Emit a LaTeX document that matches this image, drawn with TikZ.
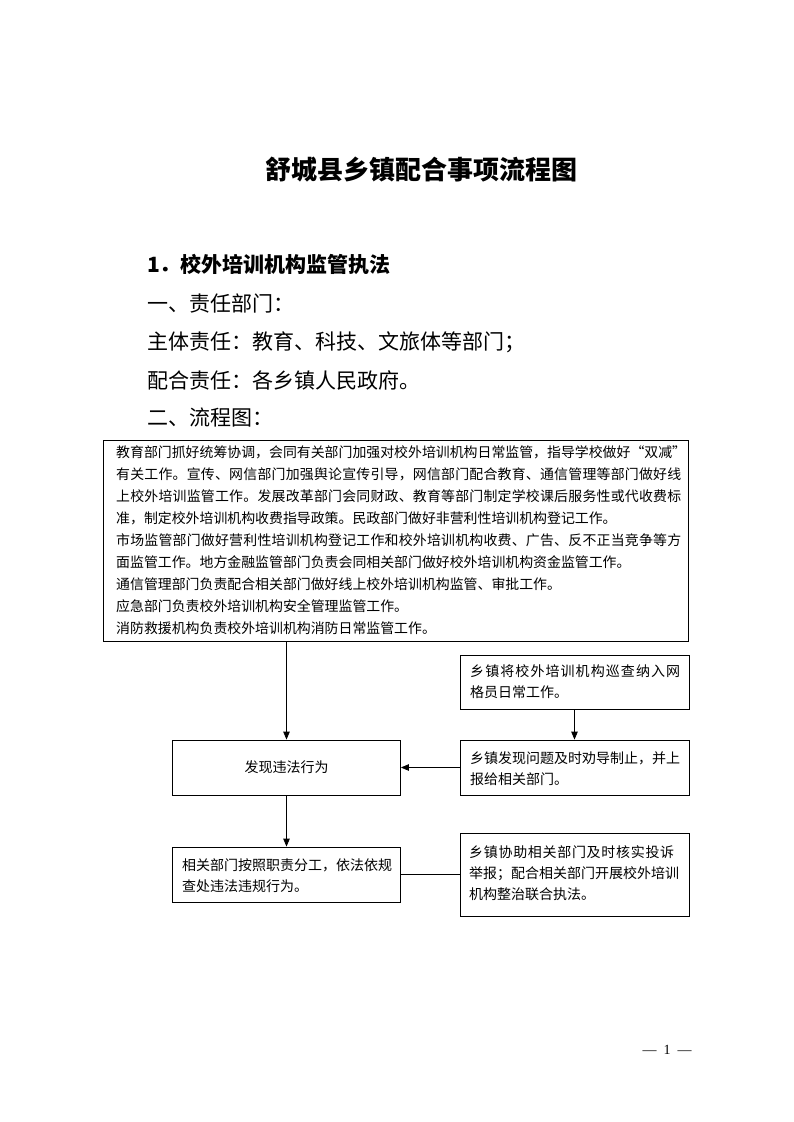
\documentclass[tikz,border=0pt]{standalone}
\usepackage{fontspec}
\setmainfont{Noto Sans CJK SC}
\newfontfamily\pnfont{Liberation Serif}
\usetikzlibrary{arrows.meta}
% justified line: spread characters over a given width
\newcommand\jline[2]{\hbox to #1{\jfirst#2\relax}}
\def\jfirst#1{#1\jrest}
\def\jrest#1{\ifx\relax#1\else\hfil#1\expandafter\jrest\fi}
\tikzset{
  box/.style={draw, line width=0.8pt, rectangle, inner xsep=0pt, inner ysep=0pt},
  arr/.style={line width=0.8pt, -{Triangle[length=8pt,width=6.5pt]}},
  conn/.style={line width=0.8pt},
  heading/.style={anchor=west, inner sep=0pt, font=\fontsize{21}{25}\selectfont},
  boxtext/.style={anchor=west, inner sep=0pt, align=left, font=\fontsize{14}{21}\selectfont},
}
\begin{document}
\begin{tikzpicture}[x=1pt,y=-1pt]
\useasboundingbox (0,0) rectangle (793,1122);
\fill[white] (0,0) rectangle (793,1122);

\node[inner sep=0pt, font=\fontsize{26}{30}\selectfont\bfseries] (title) at (421,170) {舒城县乡镇配合事项流程图};

\node[heading, font=\fontsize{21}{25}\selectfont\bfseries] (h1) at (147,264) {1．校外培训机构监管执法};
\node[heading] (h2) at (147,303) {一、责任部门：};
\node[heading] (h3) at (147,342) {主体责任：教育、科技、文旅体等部门；};
\node[heading] (h4) at (147,380) {配合责任：各乡镇人民政府。};
\node[heading] (h5) at (147,418) {二、流程图：};

\node[box, minimum width=585pt, minimum height=201pt] (big) at (395.5,540.5) {};
\node[boxtext, font=\fontsize{13.9}{22}\selectfont] (bigtext) at (116,540.5) {%
\jline{565pt}{教育部门抓好统筹协调，会同有关部门加强对校外培训机构日常监管，指导学校做好“双减”}\\
\jline{565pt}{有关工作。宣传、网信部门加强舆论宣传引导，网信部门配合教育、通信管理等部门做好线}\\
\jline{565pt}{上校外培训监管工作。发展改革部门会同财政、教育等部门制定学校课后服务性或代收费标}\\
准，制定校外培训机构收费指导政策。民政部门做好非营利性培训机构登记工作。\\
\jline{565pt}{市场监管部门做好营利性培训机构登记工作和校外培训机构收费、广告、反不正当竞争等方}\\
面监管工作。地方金融监管部门负责会同相关部门做好校外培训机构资金监管工作。\\
通信管理部门负责配合相关部门做好线上校外培训机构监管、审批工作。\\
应急部门负责校外培训机构安全管理监管工作。\\
消防救援机构负责校外培训机构消防日常监管工作。};

\node[box, minimum width=229pt, minimum height=54pt] (patrol) at (574.5,682) {};
\node[boxtext] at (470,682) {\jline{210pt}{乡镇将校外培训机构巡查纳入网}\\格员日常工作。};

\node[box, minimum width=229pt, minimum height=55pt] (report) at (574.5,767.5) {};
\node[boxtext] at (470,768.5) {\jline{210pt}{乡镇发现问题及时劝导制止，并上}\\报给相关部门。};

\node[box, minimum width=228pt, minimum height=55pt, font=\fontsize{14}{21}\selectfont] (found) at (286.5,767.5) {发现违法行为};

\node[box, minimum width=228pt, minimum height=55pt] (handle) at (286.5,874.5) {};
\node[boxtext] at (182,875.5) {\jline{209pt}{相关部门按照职责分工，依法依规}\\查处违法违规行为。};

\node[box, minimum width=229pt, minimum height=83pt] (assist) at (574.5,875) {};
\node[boxtext] at (469,873.5) {\jline{205pt}{乡镇协助相关部门及时核实投诉}\\\jline{205pt}{举报；配合相关部门开展校外培训}\\机构整治联合执法。};

\draw[arr] (found.north |- big.south) -- (found.north);
\draw[arr] (patrol.south) -- (report.north);
\draw[arr] (report.west) -- (found.east);
\draw[arr] (found.south) -- (handle.north);
\draw[conn] (handle.east) -- (handle.east -| assist.west);

\node[inner sep=0pt, font=\pnfont\fontsize{14}{16}\selectfont] (page) at (667,1050) {—\hspace{7pt}1\hspace{7pt}—};
\end{tikzpicture}
\end{document}
